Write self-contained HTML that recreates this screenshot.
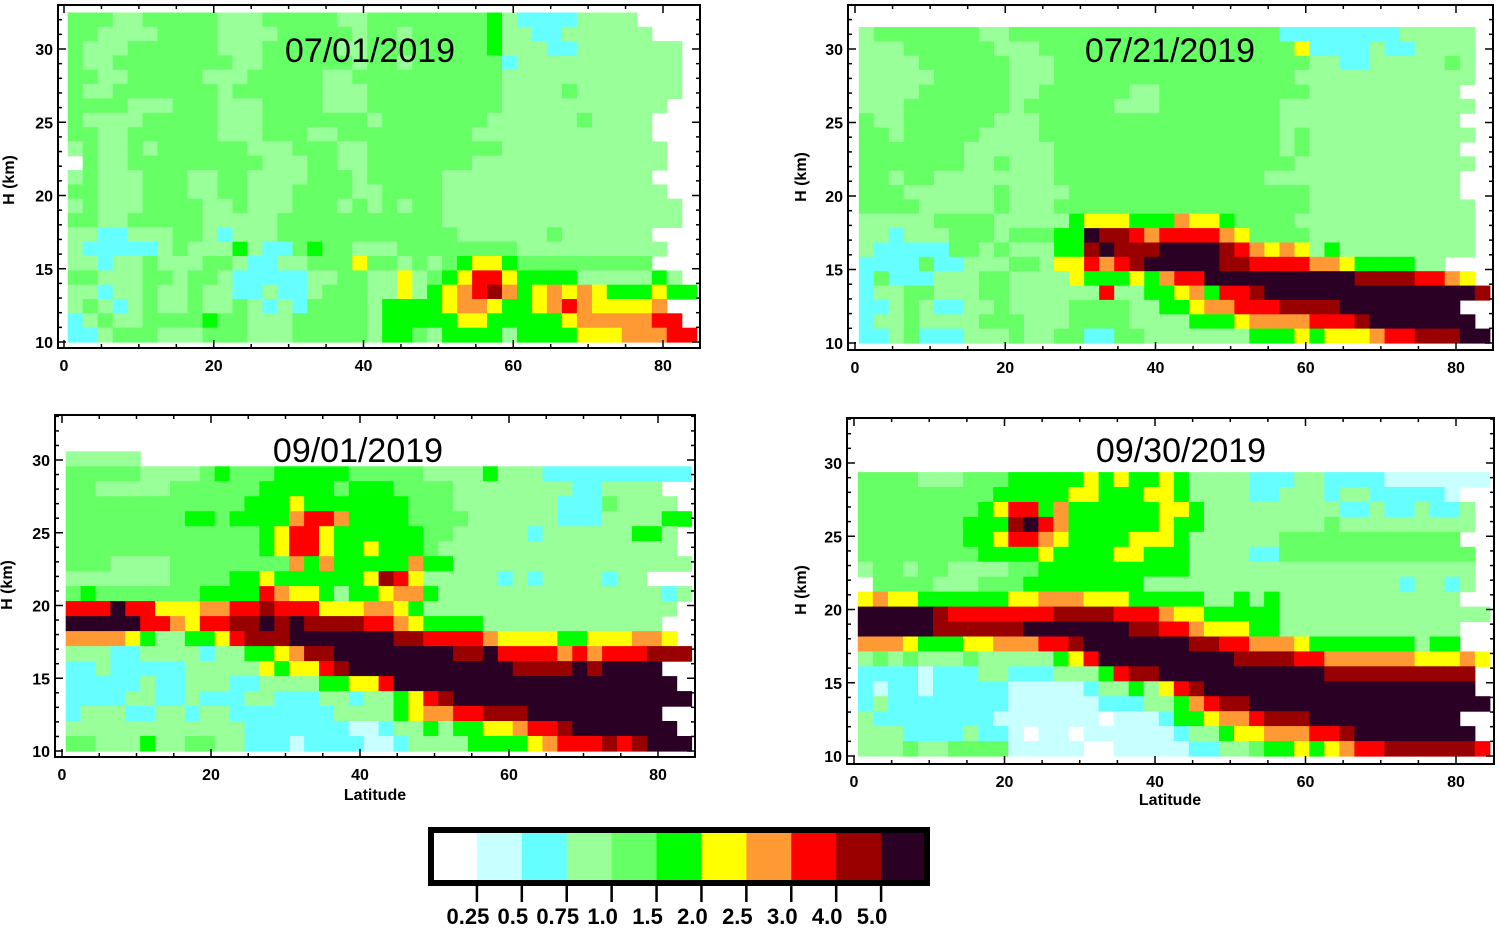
<!DOCTYPE html>
<html><head><meta charset="utf-8"><style>
html,body{margin:0;padding:0;background:#fff}
svg{display:block}
text{font-family:"Liberation Sans",Arial,sans-serif}
.tk{font-weight:bold;font-size:16px}
.ttl{font-size:34px}
.cb{font-weight:bold;font-size:22px}
</style></head><body>
<svg id="chart" width="1499" height="928" viewBox="0 0 1499 928" xmlns="http://www.w3.org/2000/svg"></svg>
<script>
// level codes: '.'none c<0.5 C<0.75 l<1.0 g<1.5 G<2.0 y<2.5 o<3.0 r<4.0 d<5.0 k>=5.0
const levelCodes = ['.','c','C','l','g','G','y','o','r','d','k'];
const levelColors = ['#ffffff','#c8ffff','#66ffff','#99ff99','#66ff66','#00ff00','#ffff00','#ff9933','#ff0000','#990000','#2a0025'];
const colorbarLabels = ['0.25','0.5','0.75','1.0','1.5','2.0','2.5','3.0','4.0','5.0'];
const xTicks = [0,20,40,60,80];
const yTicks = [10,15,20,25,30];
const panelTitles = ['07/01/2019','07/21/2019','09/01/2019','09/30/2019'];
const rowHeightsKm = [0.978,0.977,1.03,1.02];

const grid0701 = [
"gggllggggg"+"lllgggggll"+"ggggggggGl"+"CCCCllll.."+"..",
"ggllllgggg"+"llllgggggl"+"gglgggggGl"+"lCCllllll."+"..",
"glllgggggg"+"lllgggggll"+"ggggggggGl"+"llCCllllll"+"l.",
"gllggggggg"+"gllggggggl"+"gglggggggC"+"llllllllll"+"l.",
"ggllgggggl"+"llgggggllg"+"gggggggggl"+"llllllllll"+"l.",
"gllggggggg"+"lgggggglll"+"gggggggggl"+"lllgllllll"+"l.",
"gggglllggg"+"lllgggglll"+"gggggggggl"+"llllllllll"+"..",
"gllllggggg"+"lllggggggg"+"lgggggggll"+"llllgllll."+"..",
"ggllgggggg"+"lllgggllgg"+"ggggggglll"+"lllllllll."+"..",
"lgllglgggg"+"gglllgggll"+"gggggggggl"+"llllllllll"+"..",
".gllgggggg"+"ggglllggll"+"ggggggglll"+"llllllllll"+"..",
"lglllgggll"+"ggllllgggl"+"ggggglllll"+"lllllllll."+"..",
"gglllgggll"+"gglllggggl"+"lgggglllll"+"llllllllll"+"..",
"lglllggggl"+"lglllggglg"+"lglgglllll"+"llllllllll"+"l.",
"ggllgggggl"+"llllgggggg"+"ggggglllll"+"llllllllll"+"l.",
"llCClllggl"+"Clllgggggg"+"ggggggllll"+"llgllllll."+"..",
"lCCCCClgll"+"lGlCCgGggl"+"llgggggggg"+"llllllllll"+"..",
"llCllglllg"+"glCCllgggy"+"gglglgGyyG"+"ggggggggg."+"..",
"gglllgglgg"+"lCCCCCllgg"+"llylgGyrry"+"GGGGlllllG"+"l.",
"llCllgllgl"+"lCClCClggg"+"llylGyordo"+"GyoyoyGGGy"+"GG",
"lglClgllgl"+"lglClCgggg"+"lGGGGyooyG"+"Gyoroyyyyo"+"..",
"ClgllggggG"+"gglllggggg"+"lGGGGGyyGG"+"GGGyooooor"+"r.",
"CClggglllg"+"gglllggggg"+"lGGglGGGGl"+"GGGGyyyooo"+"rr"
];
const grid0721 = [
"lgggggggll"+"gggggggggg"+"ggggggggCC"+"CCCCCCllll"+"l.",
"lllggggggl"+"llgggggggg"+"gggggggggy"+"CCCClCClll"+"l.",
"llllgggggg"+"lllggggggg"+"gggggggggg"+"llCClllllg"+"l.",
"lllllggggg"+"lllggggggg"+"gggggggggl"+"llllllllll"+"l.",
"llllgggggg"+"llggggggll"+"gggggggggg"+"llllllllll"+"..",
"lllggggggg"+"lgggggglll"+"ggggggggll"+"llllllllll"+"l.",
"gllggggggl"+"llgggggggg"+"ggggggggll"+"llllllllll"+"..",
"gglgggggll"+"llgggggggg"+"gggggggglg"+"llllllllll"+"l.",
"ggggggglll"+"lllggggggg"+"gggggggglg"+"llllllllll"+"..",
"gggggggllg"+"lllggggggg"+"gggggggggl"+"llllllllll"+"l.",
"gglgglllll"+"lllggggggg"+"ggggggglll"+"llllllllll"+"..",
"gggllllllg"+"llllgggggg"+"gggggggggg"+"llllllllll"+"..",
"gggglllllg"+"lllggggggg"+"gggggggggg"+"llllllllll"+"l.",
"lllllggggl"+"llllGyyyGG"+"GoyyGggggl"+"llllllllll"+"l.",
"llClllgggl"+"gggGGkddro"+"rrrroygggg"+"llllllllll"+"l.",
"lCCCCCgglg"+"lllGGdkddd"+"kkkkdroyoy"+"lGllllllll"+"l.",
"CCCCgCClll"+"gglyyrordk"+"kkkkddrrrr"+"ooyGGGGll."+"..",
"CgCCClllgg"+"llllyGGGyG"+"orrkkkkkkk"+"kkkddddrro"+"y.",
"Cllgglllgg"+"llllllrllG"+"GyoGrrdkkk"+"kkkkkkkkkk"+"kd",
"CClglCCllg"+"llllggggll"+"GGyoorrrdd"+"ddkkkkkkkk"+"..",
"Cllgllllgg"+"glllggggll"+"llGGGyoooo"+"rrrdkkkkkk"+"k.",
"CClgCCClll"+"gllggCCggl"+"llllllGGGy"+"Gyyyorrddd"+"kk"
];
const grid0901 = [
"lllll....."+".........."+".........."+".........."+"..",
"gggggllllg"+"GgggGGGGGg"+"ggggllllGl"+"llCCCCCCCC"+"CC",
"gglllllggg"+"gggGGGGGgG"+"GGggggllll"+"llllCCllll"+"..",
"gggggggggg"+"ggGGGyGGGG"+"GGGgggllll"+"lllCCCglll"+"l.",
"ggggggggGG"+"gGGGGorroG"+"GGGgggglll"+"lllCCCllll"+"GG",
"gggggggggg"+"gggGyrryGG"+"GGGGggllll"+"lCllllllGG"+"l.",
"gggggggggg"+"gggGyrryGG"+"yGGGglllll"+"llllllllll"+"l.",
"gggllllggg"+"gggggoGoGG"+"GGGoGGllll"+"llllllllll"+"ll",
"lllllllggg"+"gGGyGGGGGG"+"ydrylllllC"+"lCllllCll."+"..",
"gGgggggggG"+"GGGroyyGlG"+"GyooGlllll"+"llllllllll"+"Cl",
"rrrkrryyyo"+"orrdrrryyy"+"ooyGllllll"+"llllllllll"+"l.",
"kkkkkrroyr"+"rddkdkdddd"+"rroyGGGGll"+"llllllllll"+"..",
"ooooyGllGG"+"yrdddkkkkk"+"kkddrrrroy"+"yyyGGyyyoo"+"y.",
"lllCCllllC"+"llGGyoddkk"+"kkkkkkddkr"+"rrrororrrd"+"dd",
"CClCCCCCll"+"lllyGyyrdk"+"kkkkkkkkkk"+"ddddkdkkkk"+"..",
"CCCCClCCll"+"lCCllllGGy"+"yrkkkkkkkk"+"kkkkkkkkkk"+"k.",
"CCCCllCClC"+"CCllCCCllC"+"llGyrdkkkk"+"kkkkkkkkkk"+"kk",
"ClllCCllCl"+"lCCCCCCCll"+"llGyoorrdd"+"dkkkkkkkkk"+"..",
"llllllllll"+"llCCCCCCCc"+"cCllGlGGyy"+"orrdkkkkkk"+"k.",
"gglllGllgg"+"llCCCcCCCC"+"ccCllllGGG"+"Gyorrrdrdk"+"kk"
];
const grid0930 = [
"gggglllggg"+"GGGGGyGyGG"+"yGllllCCCl"+"lCCCCccccc"+"cc",
"gggggggggG"+"GGGGyyGGGy"+"yGllllCCll"+"lCllCCCCCc"+"..",
"ggggggggGy"+"rrGoGGGGGG"+"yyGlllllll"+"llCClCClCC"+"l.",
"gggggggGGG"+"dkroGGGGGG"+"yGGlllllll"+"lgllllllll"+"l.",
"gggggggGGy"+"rroyGGGGyy"+"yGllllllgg"+"gggggggggg"+"..",
"ggggggggGG"+"GGyGGGGyyG"+"GGllllCCgg"+"gggggggggg"+"g.",
"lgglggllll"+"ggGGGGGGGG"+"GGllllllll"+"llllllllll"+"l.",
".gggglllgg"+"gGGGGGGGGl"+"llllllllll"+"llllllCllC"+"l.",
"yoyyGGGGGG"+"yyoooyyyGG"+"GGGllGlGll"+"llllllllll"+"..",
"kkkkkdrrrr"+"rrrddddrrr"+"oyyGGGGGll"+"llllllllll"+"ll",
"kkkkkddddd"+"dkkkkkkkdd"+"rroyyyGGll"+"llllllllll"+"..",
"oooyGGGyyo"+"oorrdkkkkk"+"kkddrroooy"+"GGGGGGGlGG"+"..",
"lglglllgll"+"lllGyrkkkk"+"kkkkkddddr"+"rooooooyyy"+"oy",
"CCCCcCCCll"+"CCClllGrdd"+"kkkkkkkkkk"+"kddddddddd"+"d.",
"CcCCcCCCCC"+"cccccCllGl"+"yrdkkkkkkk"+"kkkkkkkkkk"+"k.",
"ClCCCCCCCC"+"ccccccCCCl"+"lGorddkkkk"+"kkkkkkkkkk"+"kk",
"lCCCCCCCCc"+"cccccc.ccc"+"CGGyoorddd"+"kkkkkkkkkk"+"..",
"lllCCCClCC"+"c.cc.ccccc"+"cCllGyyooo"+"rrdkkkkkkk"+"k.",
"lllgllgggg"+"ccccc..ccc"+"ccCCllgGGy"+"Gyorrddddd"+"dr"
];
const grids = [grid0701, grid0721, grid0901, grid0930];

const panels = [
 {fx0:58,fy0:5,fx1:700,fy1:348,lat0:64,lat80:663,km10:342,km30:49,tx:370,ty:62,hx:14,hy:180,lab:false},
 {fx0:848,fy0:5,fx1:1493,fy1:350,lat0:855,lat80:1456,km10:343,km30:49,tx:1170,ty:62,hx:806,hy:177,lab:false},
 {fx0:55,fy0:415,fx1:695,fy1:757,lat0:62,lat80:658,km10:751,km30:460,tx:358,ty:462,hx:12,hy:585,lab:true,lx:375,ly:800},
 {fx0:847,fy0:418,fx1:1494,fy1:764,lat0:854,lat80:1456,km10:756,km30:463,tx:1181,ty:462,hx:806,hy:590,lab:true,lx:1170,ly:805}
];

const NS='http://www.w3.org/2000/svg';
const svg=document.getElementById('chart');
function mk(tag,attrs,parent){const e=document.createElementNS(NS,tag);for(const k in attrs)e.setAttribute(k,attrs[k]);(parent||svg).appendChild(e);return e;}

panels.forEach((p,pi)=>{
  const g=mk('g',{});
  
  
  const xs=lat=>p.lat0+lat*(p.lat80-p.lat0)/80;
  const ys=km=>p.km10-(km-10)*(p.km10-p.km30)/20;
  const rows=grids[pi];
  const n=rows.length;
  const rowH=rowHeightsKm[pi];
  const hm=mk('g',{},g);
  
  
  rows.forEach((row,i)=>{
    const k=n-1-i;
    const kmLo=10+k*rowH, kmHi=10+(k+1)*rowH;
    for(let j=0;j<Math.min(row.length,42);j++){
      const idx=levelCodes.indexOf(row[j]);
      if(idx<=0)continue;
      const x0=xs(0.5+2*j), x1=xs(2.5+2*j);
      const r=mk('rect',{x:x0.toFixed(1),y:ys(kmHi).toFixed(1),width:(x1-x0+0.6).toFixed(1),height:(ys(kmLo)-ys(kmHi)+0.6).toFixed(1),fill:levelColors[idx]},hm);
      
      
    }
  });
  const fr=mk('rect',{x:p.fx0,y:p.fy0,width:p.fx1-p.fx0,height:p.fy1-p.fy0,fill:'none',stroke:'#000','stroke-width':2},g);
  
  
  const ax=mk('g',{stroke:'#000','stroke-width':1.5},g);
  
  
  for(let lat=0;lat<=85;lat+=5){
    const x=xs(lat); if(x>p.fx1)continue;
    const L=(lat%20===0)?8:4;
    mk('line',{x1:x,y1:p.fy1,x2:x,y2:p.fy1-L},ax);
    mk('line',{x1:x,y1:p.fy0,x2:x,y2:p.fy0+L},ax);
  }
  for(let km=10;km<=33;km++){
    const y=ys(km); if(y<p.fy0)continue;
    const L=(km%5===0)?8:4;
    mk('line',{x1:p.fx0,y1:y,x2:p.fx0+L,y2:y},ax);
    mk('line',{x1:p.fx1,y1:y,x2:p.fx1-L,y2:y},ax);
  }
  xTicks.forEach(v=>{
    const t=mk('text',{x:xs(v),y:p.fy1+23,'text-anchor':'middle',class:'tk'},g);
    t.textContent=v;
    
    
  });
  yTicks.forEach(v=>{
    const t=mk('text',{x:p.fx0-5,y:ys(v)+6,'text-anchor':'end',class:'tk'},g);
    t.textContent=v;
    
    
  });
  const ht=mk('text',{x:p.hx,y:p.hy,'text-anchor':'middle',class:'tk',transform:'rotate(-90 '+p.hx+' '+p.hy+')'},g);
  ht.textContent='H (km)';
  
  
  if(p.lab){
    const lt=mk('text',{x:p.lx,y:p.ly,'text-anchor':'middle',class:'tk'},g);
    lt.textContent='Latitude';
    
    
  }
  const tt=mk('text',{x:p.tx,y:p.ty,'text-anchor':'middle',class:'ttl'},g);
  tt.textContent=panelTitles[pi];
  
  
});

const cbg=mk('g',{});


const cbX0=432, cbX1=926, cbY0=833, cbY1=880;
const segW=(cbX1-cbX0)/levelColors.length;
levelColors.forEach((c,i)=>{
  const r=mk('rect',{x:(cbX0+i*segW).toFixed(1),y:cbY0,width:(segW+0.5).toFixed(1),height:cbY1-cbY0,fill:c},cbg);
  
  
});
mk('rect',{x:431,y:830,width:496,height:53,fill:'none',stroke:'#000','stroke-width':6},cbg);
colorbarLabels.forEach((lab,i)=>{
  const x=cbX0+(i+1)*segW;
  mk('line',{x1:x,y1:886,x2:x,y2:902,stroke:'#000','stroke-width':2.5},cbg);
  const t=mk('text',{x:x-9,y:924,'text-anchor':'middle',class:'cb'},cbg);
  t.textContent=lab;
  
  
});
</script>
</body></html>
